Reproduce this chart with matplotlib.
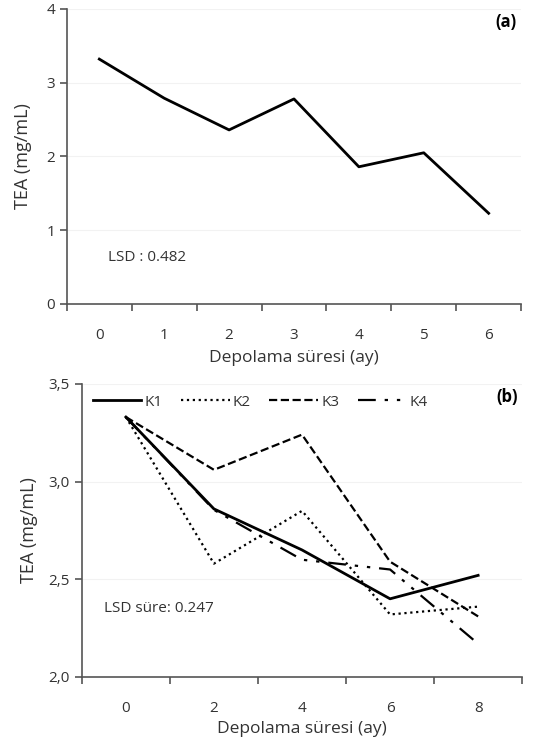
import numpy as np
import matplotlib
matplotlib.use("Agg")
import matplotlib.pyplot as plt
from matplotlib.ticker import FixedLocator, FuncFormatter

plt.rcParams['font.family'] = ['Open Sans', 'DejaVu Sans']

# panel (a)
months_a = ['0', '1', '2', '3', '4', '5', '6']
tea_a = [3.32, 2.79, 2.36, 2.78, 1.86, 2.05, 1.23]

# panel (b)
months_b = ['0', '2', '4', '6', '8']
k1 = [3.33, 2.86, 2.65, 2.40, 2.52]
k2 = [3.33, 2.58, 2.85, 2.32, 2.36]
k3 = [3.33, 3.06, 3.24, 2.59, 2.31]
k4 = [3.33, 2.855, 2.60, 2.55, 2.17]
series_b = [('K1', k1, '-'), ('K2', k2, ':'), ('K3', k3, '--'),
            ('K4', k4, (0, (8, 4, 1.5, 4, 1.5, 4)))]

fig = plt.figure(figsize=(5.35, 7.46), dpi=100)
ax1 = fig.add_axes([0.125, 0.5925, 0.849, 0.3955])
ax2 = fig.add_axes([0.153, 0.0925, 0.823, 0.393])

tick_col = '#333333'
spine_col = '#555555'


def style_axes(ax, n):
    for s in ['top', 'right']:
        ax.spines[s].set_visible(False)
    for s in ['left', 'bottom']:
        ax.spines[s].set_color(spine_col)
        ax.spines[s].set_linewidth(1.2)
    ax.set_xlim(-0.5, n - 0.5)
    ax.xaxis.set_major_locator(FixedLocator(np.arange(n + 1) - 0.5))
    ax.xaxis.set_minor_locator(FixedLocator(np.arange(n)))
    ax.tick_params(axis='x', which='major', length=5, width=1.2,
                   color=spine_col, labelbottom=False)
    ax.tick_params(axis='x', which='minor', length=0, pad=17,
                   labelsize=11, labelcolor=tick_col)
    ax.tick_params(axis='y', length=5, width=1.2, color=spine_col,
                   labelsize=11, labelcolor=tick_col)
    ax.grid(axis='y', color='#f2f2f2', linewidth=0.8)
    ax.set_axisbelow(True)


x_a = np.arange(len(months_a))
ax1.plot(x_a, tea_a, color='black', linewidth=2)
style_axes(ax1, len(months_a))
ax1.set_xticks(x_a, months_a, minor=True)
ax1.set_ylim(0, 4)
ax1.set_yticks([0, 1, 2, 3, 4])
ax1.set_xlabel('Depolama süresi (ay)', fontsize=12.5, color=tick_col, labelpad=5)
ax1.set_ylabel('TEA (mg/mL)', fontsize=13, color=tick_col, labelpad=10)
ax1.text(0.09, 0.145, 'LSD : 0.482', transform=ax1.transAxes,
         fontsize=11, color=tick_col)
ax1.text(0.99, 0.985, '(a)', transform=ax1.transAxes, fontsize=12,
         fontweight='bold', ha='right', va='top')

x_b = np.arange(len(months_b))
for name, vals, ls in series_b:
    ax2.plot(x_b, vals, color='black', linestyle=ls,
             linewidth=2 if ls == '-' else 1.6, label=name)
style_axes(ax2, len(months_b))
ax2.set_xticks(x_b, months_b, minor=True)
ax2.set_ylim(2.0, 3.5)
ax2.set_yticks([2.0, 2.5, 3.0, 3.5])
ax2.yaxis.set_major_formatter(FuncFormatter(lambda v, p: f'{v:.1f}'.replace('.', ',')))
ax2.set_xlabel('Depolama süresi (ay)', fontsize=12.5, color=tick_col, labelpad=4)
ax2.set_ylabel('TEA (mg/mL)', fontsize=13, color=tick_col, labelpad=8)
ax2.text(0.05, 0.22, 'LSD süre: 0.247', transform=ax2.transAxes,
         fontsize=11, color=tick_col)
ax2.text(0.99, 0.985, '(b)', transform=ax2.transAxes, fontsize=12,
         fontweight='bold', ha='right', va='top')
ax2.legend(loc='upper left', bbox_to_anchor=(0.0, 1.0), ncol=4, frameon=False,
           handlelength=3.2, handletextpad=0.2, columnspacing=1.2,
           fontsize=11, labelcolor=tick_col, borderaxespad=0.3)

fig.savefig('out.png', dpi=100)
